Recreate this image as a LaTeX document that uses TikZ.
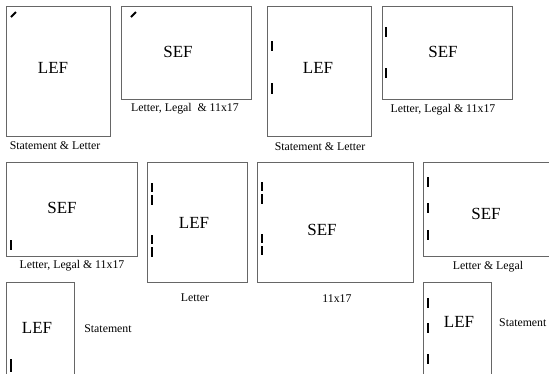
\documentclass[tikz,border=0pt]{standalone}
\usepackage{fontspec}
\setmainfont{Liberation Serif}
\begin{document}
\begin{tikzpicture}[x=1pt,y=-1pt,
  sheet/.style={draw=black!60, line width=1pt},
  big/.style={font=\fontsize{17}{19}\selectfont, inner sep=0pt},
  lbl/.style={font=\fontsize{11.8}{13}\selectfont, inner sep=0pt},
  hole/.style={line width=1.8pt, black}]
\useasboundingbox (0,0) rectangle (549,373);
\clip (0,0) rectangle (549,373);
% row 1
\draw[sheet] (6,6) rectangle (110,136);
\node[big] (t1) at (53,68) {LEF};
\node[lbl] (l1) at (55,146) {Statement \& Letter};
\coordinate (h1a) at (11,17); \coordinate (h1b) at (16,12);
\draw[hole] (h1a) -- (h1b);

\draw[sheet] (121,6) rectangle (251,99);
\node[big] (t2) at (178,52) {SEF};
\node[lbl] (l2) at (185,109) {Letter, Legal\ \ \& 11x17};
\coordinate (h2a) at (131,17); \coordinate (h2b) at (136,12);
\draw[hole] (h2a) -- (h2b);

\draw[sheet] (267,6) rectangle (371,136);
\node[big] (t3) at (318,68) {LEF};
\node[lbl] (l3) at (320,147) {Statement \& Letter};
\draw[hole] (272,41) -- (272,51);
\draw[hole] (272,83) -- (272,94);

\draw[sheet] (382,6) rectangle (512,99);
\node[big] (t4) at (443,52) {SEF};
\node[lbl] (l4) at (443,110) {Letter, Legal \& 11x17};
\draw[hole] (386,27) -- (386,37);
\draw[hole] (386,68) -- (386,78);

% row 2
\draw[sheet] (6,162) rectangle (137,256);
\node[big] (t5) at (62,208) {SEF};
\node[lbl] (l5) at (72,266) {Letter, Legal \& 11x17};
\draw[hole] (11,240) -- (11,250);

\draw[sheet] (147,162) rectangle (247,282);
\node[big] (t6) at (194,223) {LEF};
\node[lbl] (l6) at (195,298) {Letter};
\draw[hole] (152,183) -- (152,192);
\draw[hole] (152,195) -- (152,205);
\draw[hole] (152,235) -- (152,244);
\draw[hole] (152,247) -- (152,257);

\draw[sheet] (257,162) rectangle (413,282);
\node[big] (t7) at (322,230) {SEF};
\node[lbl] (l7) at (337,299) {11x17};
\draw[hole] (262,182) -- (262,191);
\draw[hole] (262,194) -- (262,204);
\draw[hole] (262,234) -- (262,243);
\draw[hole] (262,246) -- (262,255);

\draw[sheet] (423,162) rectangle (560,256);
\node[big] (t8) at (486,214) {SEF};
\node[lbl] (l8) at (488,267) {Letter \& Legal};
\draw[hole] (428,177) -- (428,187);
\draw[hole] (428,203) -- (428,213);
\draw[hole] (428,230) -- (428,240);

% row 3
\draw[sheet] (6,380) -- (6,282) -- (74,282) -- (74,380);
\node[big] (t9) at (37,328) {LEF};
\node[lbl] (l9) at (108,329) {Statement};
\draw[hole] (11,359) -- (11,372);

\draw[sheet] (423,380) -- (423,282) -- (491,282) -- (491,380);
\node[big] (t10) at (459,322) {LEF};
\node[lbl, anchor=west] (l10) at (499,323) {Statement};
\draw[hole] (428,298) -- (428,308);
\draw[hole] (428,323) -- (428,333);
\draw[hole] (428,354) -- (428,364);
\end{tikzpicture}
\end{document}
